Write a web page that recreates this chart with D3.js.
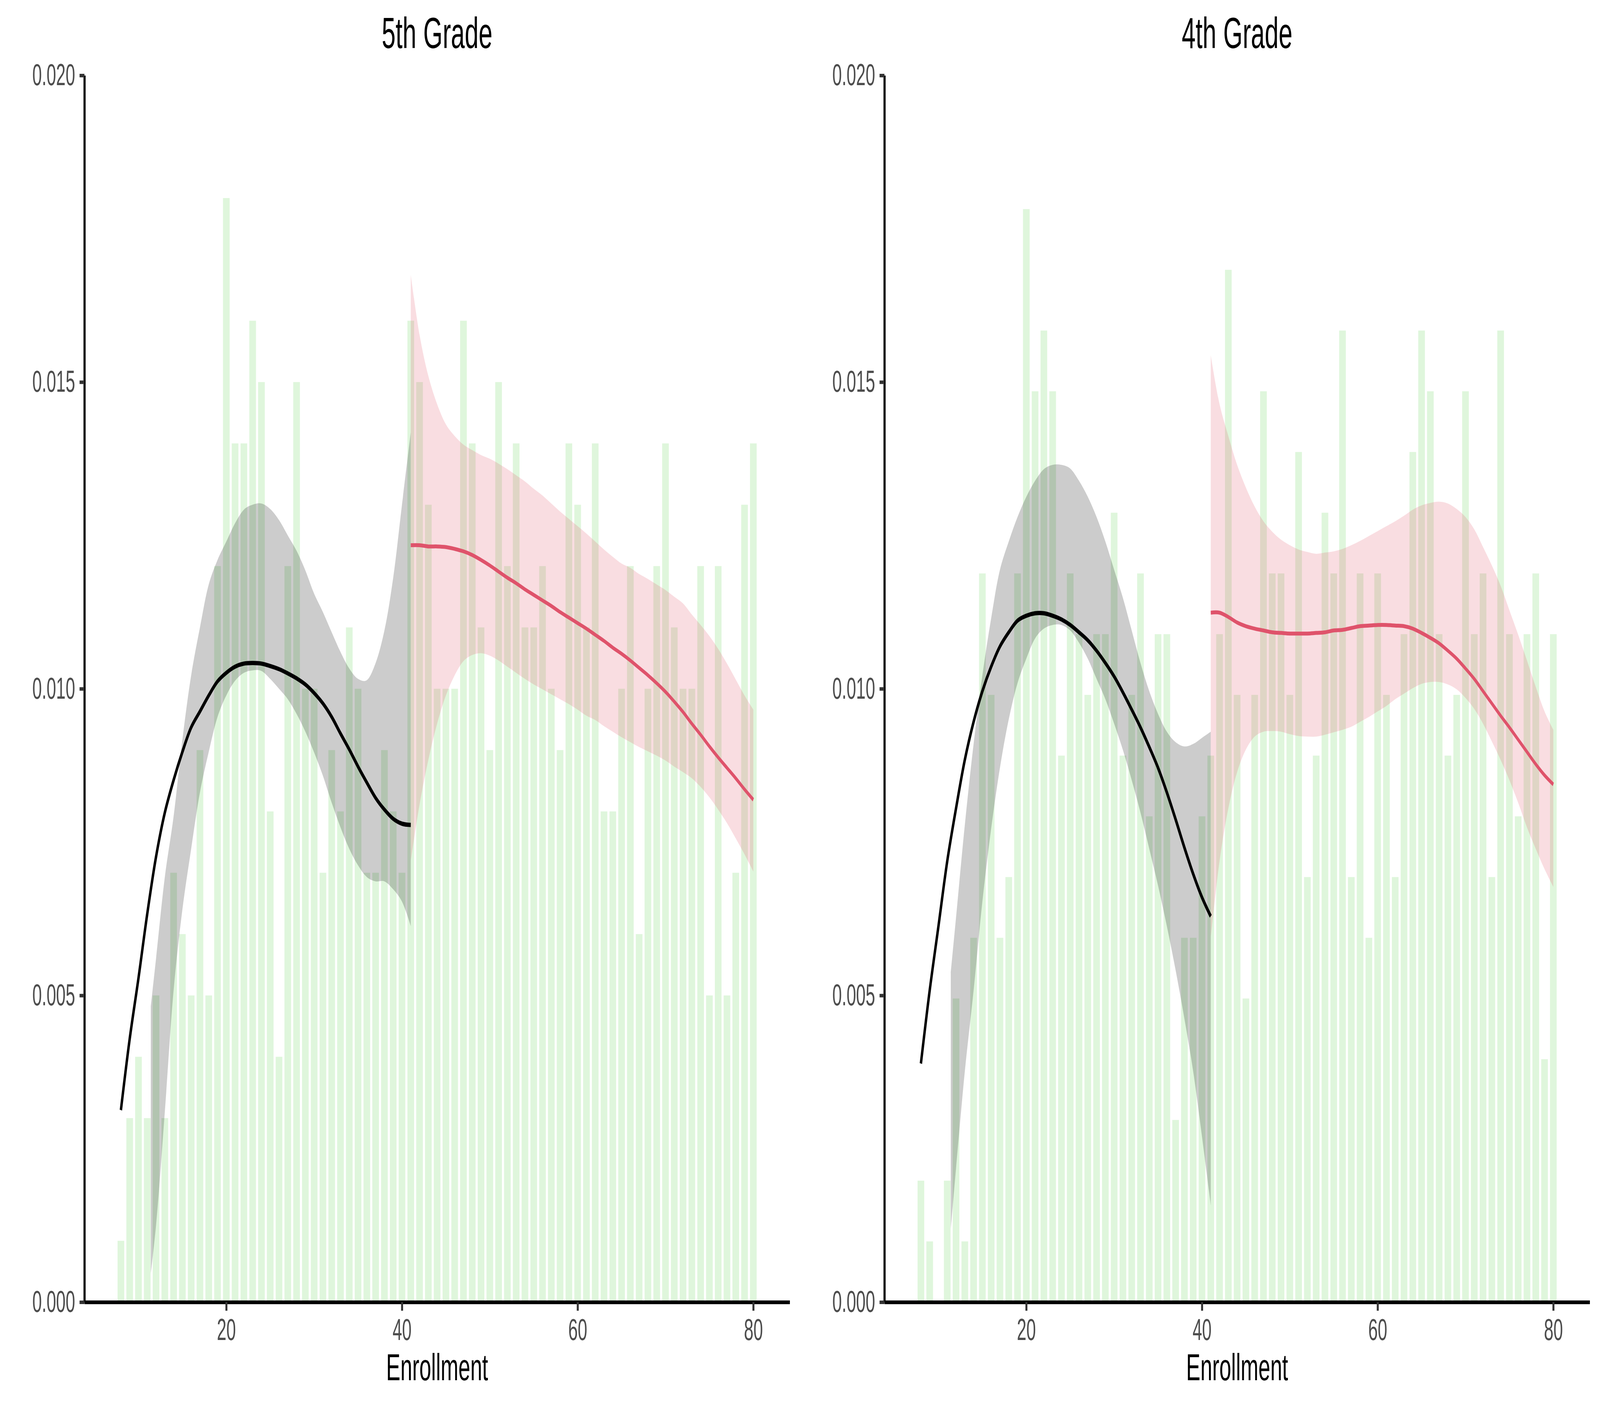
<!DOCTYPE html>
<html>
<head>
<meta charset="utf-8">
<script src="https://cdn.jsdelivr.net/npm/d3@7/dist/d3.min.js"></script>
<style>
  html, body { margin: 0; padding: 0; width: 100%; height: 100%; background: #fff; overflow: hidden; }
  svg { display: block; width: 100vw; height: 100vh; font-family: "Liberation Sans", Arial, Helvetica, sans-serif; }
</style>
</head>
<body>
<svg id="chart" viewBox="0 0 7200 3600" preserveAspectRatio="none"></svg>
<script>
// enrollment values (one bar per value)
const enrollment = [8,9,10,11,12,13,14,15,16,17,18,19,20,21,22,23,24,25,26,27,28,29,30,31,32,33,34,35,36,37,38,39,40,
  41,42,43,44,45,46,47,48,49,50,51,52,53,54,55,56,57,58,59,60,61,62,63,64,65,66,67,68,69,70,71,72,73,74,75,76,77,78,79,80];

const density5 = [0.001,0.003,0.004,0.003,0.005,0.003,0.007,0.006,0.005,0.009,0.005,0.012,0.018,0.014,0.014,0.016,0.015,0.008,0.004,0.012,0.015,0.010,0.010,0.007,0.009,0.008,0.011,0.010,0.007,0.007,0.009,0.008,0.007,
  0.016,0.015,0.013,0.010,0.010,0.010,0.016,0.014,0.011,0.009,0.015,0.012,0.014,0.011,0.011,0.012,0.010,0.009,0.014,0.013,0.011,0.014,0.008,0.008,0.010,0.012,0.006,0.010,0.012,0.014,0.011,0.010,0.010,0.012,0.005,0.012,0.005,0.007,0.013,0.014];

const density4 = [0.00198,0.00099,0,0.00198,0.00495,0.00099,0.00594,0.01188,0.0099,0.00594,0.00693,0.01188,0.01782,0.01485,0.01584,0.01485,0.00891,0.01188,0.01089,0.0099,0.01089,0.01089,0.01287,0.00891,0.0099,0.01188,0.00792,0.01089,0.01089,0.00297,0.00594,0.00594,0.00792,
  0.00891,0.01089,0.01683,0.0099,0.00495,0.0099,0.01485,0.01188,0.01188,0.0099,0.01386,0.00693,0.00891,0.01287,0.01188,0.01584,0.00693,0.01188,0.00594,0.01188,0.0099,0.00693,0.01089,0.01386,0.01584,0.01485,0.01089,0.00891,0.0099,0.01485,0.01089,0.01188,0.00693,0.01584,0.01089,0.00792,0.01089,0.01188,0.00396,0.01089];

// smooth fits below and above the cutoff at 41
const fitLeftX = [8,9,10,11,12,13,14,15,16,17,18,19,20,21,22,23,24,25,26,27,28,29,30,31,32,33,34,35,36,37,38,39,40,41];
const bandLeftX = [11.4,12,13,14,15,16,17,18,19,20,21,22,23,24,25,26,27,28,29,30,31,32,33,34,35,36,37,38,39,40,41];
const fitRightX = [41,42,43,44,45,46,47,48,49,50,51,52,53,54,55,56,57,58,59,60,61,62,63,64,65,66,67,68,69,70,71,72,73,74,75,76,77,78,79,80];

const fit5Left = [0.00313,0.00429,0.00528,0.00633,0.00726,0.00798,0.00851,0.00897,0.00937,0.00963,0.00989,0.01012,0.01026,0.01036,0.01041,0.01042,0.01041,0.01037,0.01032,0.01025,0.01017,0.01007,0.00993,0.00976,0.00954,0.00927,0.00901,0.00873,0.00847,0.00822,0.00803,0.00788,0.0078,0.00778];
const upper5Left = [0.00482,0.0056,0.00693,0.00792,0.00917,0.01022,0.011,0.0117,0.0121,0.0124,0.0127,0.01292,0.013,0.01302,0.01293,0.01275,0.0125,0.01225,0.01193,0.01155,0.01125,0.01092,0.0106,0.01033,0.01016,0.01014,0.01042,0.01095,0.01181,0.013,0.01418];
const lower5Left = [0.00046,0.00125,0.0031,0.00508,0.0064,0.00739,0.00831,0.00897,0.00954,0.00989,0.01013,0.01026,0.0103,0.01029,0.01016,0.01,0.00983,0.00959,0.0093,0.00896,0.00858,0.00814,0.00774,0.00739,0.00712,0.00693,0.00686,0.00686,0.00673,0.00653,0.00613];
const fit5Right = [0.01234,0.01234,0.01232,0.01232,0.01231,0.01228,0.01224,0.01218,0.0121,0.01201,0.01191,0.01181,0.01172,0.01162,0.01153,0.01144,0.01135,0.01125,0.01116,0.01107,0.01098,0.01088,0.01078,0.01067,0.01057,0.01046,0.01034,0.01022,0.01009,0.00995,0.00979,0.00962,0.00943,0.00925,0.00906,0.00888,0.00871,0.00854,0.00836,0.00819];
const upper5Right = [0.01675,0.01577,0.0151,0.01464,0.01431,0.01412,0.01398,0.01389,0.01381,0.01375,0.01367,0.01358,0.01348,0.01338,0.01326,0.01315,0.01302,0.01289,0.01277,0.01265,0.01253,0.0124,0.01227,0.01215,0.01204,0.01197,0.01187,0.01179,0.0117,0.01161,0.0115,0.01139,0.01121,0.01104,0.01086,0.01065,0.01041,0.01015,0.00989,0.00966];
const lower5Right = [0.00719,0.00811,0.00884,0.00943,0.00989,0.01022,0.01045,0.01055,0.01058,0.01054,0.01046,0.01036,0.01026,0.01016,0.01007,0.00999,0.00991,0.00983,0.00975,0.00966,0.00956,0.00949,0.00939,0.0093,0.00921,0.00913,0.00905,0.00898,0.00891,0.00883,0.00873,0.00864,0.00854,0.0084,0.00823,0.00803,0.00781,0.00756,0.0073,0.00702];

const fit4Left = [0.00389,0.00508,0.00613,0.00719,0.00805,0.00884,0.00946,0.00996,0.01036,0.01069,0.01092,0.01111,0.01119,0.01123,0.01123,0.01119,0.01113,0.01104,0.01092,0.01079,0.01062,0.01042,0.0102,0.00994,0.00966,0.00937,0.00905,0.00871,0.00831,0.00787,0.00741,0.00698,0.0066,0.00629];
const upper4Left = [0.00537,0.00627,0.00778,0.0091,0.01022,0.01115,0.01194,0.0124,0.0128,0.01313,0.01339,0.01358,0.01365,0.01365,0.01359,0.01339,0.01313,0.0128,0.0124,0.01194,0.01148,0.01095,0.01042,0.00996,0.00959,0.0093,0.00913,0.00906,0.0091,0.0092,0.0093];
const lower4Left = [0.00119,0.00218,0.00376,0.00508,0.00653,0.00772,0.00871,0.0095,0.01009,0.01049,0.01082,0.01098,0.01104,0.01104,0.01095,0.01075,0.01049,0.01016,0.00983,0.00943,0.009,0.00851,0.00798,0.00739,0.00679,0.00613,0.00541,0.00462,0.00376,0.0027,0.00158];
const fit4Right = [0.01124,0.01124,0.01117,0.01108,0.01102,0.01098,0.01095,0.01092,0.01091,0.0109,0.0109,0.0109,0.01091,0.01092,0.01095,0.01096,0.01099,0.01102,0.01103,0.01104,0.01104,0.01103,0.01102,0.01098,0.01091,0.01083,0.01074,0.01062,0.01049,0.01033,0.01016,0.00996,0.00976,0.00956,0.00937,0.00917,0.00897,0.00877,0.00859,0.00844];
const upper4Right = [0.01544,0.01464,0.01412,0.01365,0.01328,0.01297,0.01273,0.01256,0.01243,0.01234,0.01227,0.01223,0.0122,0.01222,0.01224,0.01228,0.01234,0.01241,0.01249,0.01257,0.01265,0.01273,0.01282,0.01292,0.01299,0.01303,0.01305,0.01302,0.01293,0.0128,0.0126,0.01231,0.01201,0.01168,0.01128,0.01088,0.01046,0.01003,0.00963,0.00933];
const lower4Right = [0.00594,0.00719,0.00805,0.00864,0.00901,0.00922,0.0093,0.00931,0.0093,0.00926,0.00923,0.00922,0.00922,0.00925,0.00929,0.00933,0.00938,0.00946,0.00954,0.00963,0.00972,0.00983,0.00992,0.01001,0.01008,0.01011,0.01011,0.01007,0.00999,0.00985,0.00967,0.00943,0.00914,0.00884,0.00851,0.00814,0.00774,0.00739,0.00706,0.00677];

const xTicks = [20, 40, 60, 80];
const yTicks = [0, 0.005, 0.010, 0.015, 0.020];

const panels = [
  {title: "5th Grade", dens: density5, fitL: fit5Left, hiL: upper5Left, loL: lower5Left, fitR: fit5Right, hiR: upper5Right, loR: lower5Right},
  {title: "4th Grade", dens: density4, fitL: fit4Left, hiL: upper4Left, loL: lower4Left, fitR: fit4Right, hiR: upper4Right, loR: lower4Right}
];

const svg = d3.select("#chart");
const panelW = 3600;
const plotLeft = 380, plotRight = 3554, plotTop = 193, plotBottom = 3334;

// x domain: bar extent with 5% padding like ggplot
const xLo = d3.min(enrollment) - 0.5, xHi = d3.max(enrollment) + 0.5;
const xPad = (xHi - xLo) * 0.05;
const x = d3.scaleLinear().domain([xLo - xPad, xHi + xPad]).range([plotLeft, plotRight]);
const y = d3.scaleLinear().domain([0, 0.02]).range([plotBottom, plotTop]);
const barW = (x(1) - x(0)) * 0.76;

const line = d3.line().x(d => x(d[0])).y(d => y(d[1])).curve(d3.curveCatmullRom);
const area = d3.area().x(d => x(d[0])).y0(d => y(d[1])).y1(d => y(d[2])).curve(d3.curveCatmullRom);

panels.forEach((p, i) => {
  const g = svg.append("g").attr("transform", "translate(" + (i * panelW) + ",0)");

  // histogram bars
  g.selectAll("rect.bar")
    .data(enrollment.map((e, k) => ({e: e, v: p.dens[k]})))
    .enter()
    .append("rect")
    .attr("class", "bar")
    .attr("x", d => x(d.e) - barW / 2)
    .attr("y", d => y(d.v))
    .attr("width", barW)
    .attr("height", d => y(0) - y(d.v))
    .attr("fill", "#61D04F")
    .attr("fill-opacity", 0.2);

  // confidence ribbons
  g.append("path")
    .datum(bandLeftX.map((v, k) => [v, p.loL[k], p.hiL[k]]))
    .attr("d", area)
    .attr("fill", "#000")
    .attr("fill-opacity", 0.2);
  g.append("path")
    .datum(fitRightX.map((v, k) => [v, p.loR[k], p.hiR[k]]))
    .attr("d", area)
    .attr("fill", "#DF536B")
    .attr("fill-opacity", 0.2);

  // fitted lines
  g.append("path")
    .datum(fitLeftX.map((v, k) => [v, p.fitL[k]]))
    .attr("d", line)
    .attr("fill", "none")
    .attr("stroke", "#000")
    .attr("stroke-width", 11);
  g.append("path")
    .datum(fitRightX.map((v, k) => [v, p.fitR[k]]))
    .attr("d", line)
    .attr("fill", "none")
    .attr("stroke", "#DF536B")
    .attr("stroke-width", 10);

  // axes
  const yAxis = g.append("g")
    .attr("transform", "translate(" + plotLeft + ",0)")
    .call(d3.axisLeft(y).tickValues(yTicks).tickFormat(d3.format(".3f")).tickSize(22).tickPadding(20).tickSizeOuter(0));
  const xAxis = g.append("g")
    .attr("transform", "translate(0," + plotBottom + ")")
    .call(d3.axisBottom(x).tickValues(xTicks).tickSize(22).tickPadding(20).tickSizeOuter(0));

  [xAxis, yAxis].forEach(a => {
    a.attr("font-family", null).attr("font-size", null);
    a.select(".domain").attr("stroke", "#000").attr("stroke-width", 9.6);
    a.selectAll(".tick line").attr("stroke", "#333").attr("stroke-width", 9);
    a.selectAll(".tick text").attr("fill", "#4D4D4D").style("font-size", "77px");
  });

  // labels
  g.append("text")
    .attr("x", (plotLeft + plotRight) / 2)
    .attr("y", 123)
    .attr("text-anchor", "middle")
    .style("font-size", "112px")
    .text(p.title);
  g.append("text")
    .attr("x", (plotLeft + plotRight) / 2)
    .attr("y", 3534)
    .attr("text-anchor", "middle")
    .style("font-size", "96px")
    .text("Enrollment");
});
</script>
</body>
</html>
